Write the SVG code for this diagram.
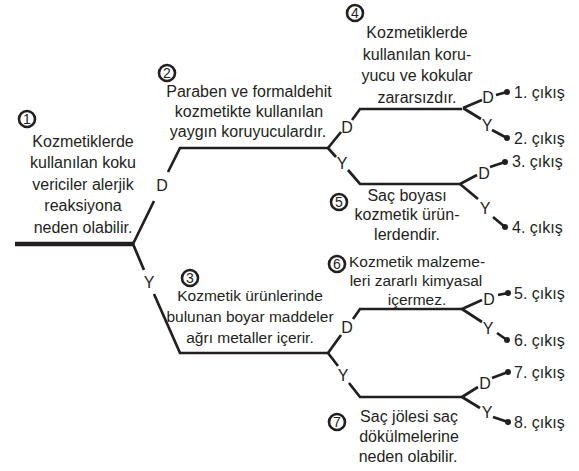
<svg xmlns="http://www.w3.org/2000/svg" width="579" height="471" viewBox="0 0 579 471">
<style>
text{font-family:"Liberation Sans",Arial,Helvetica,sans-serif;fill:#231f20}
.t{font-size:16px;text-anchor:middle}
.t3{font-size:15.5px;text-anchor:middle}
.lbl{font-size:16px;text-anchor:middle}
.ex{font-size:16px}
.num{font-size:14px;text-anchor:middle}
.ln{fill:none;stroke:#231f20;stroke-width:2.7;stroke-linecap:butt;stroke-linejoin:miter}
.stem{fill:none;stroke:#231f20;stroke-width:4.5}
.circ{fill:none;stroke:#231f20;stroke-width:2.6}
.dot{fill:#231f20}
</style>
<rect width="579" height="471" fill="#ffffff"/>
<g id="connectors">
<path class="stem" d="M15,244 H134"/>
<path class="ln" d="M133,244 L154,201 M168,172 L180,148 H328"/>
<path class="ln" d="M133,244 L144,270 M154,294 L180,353 H328"/>
<path class="ln" d="M328,148 L341,132 M352,120 L360,109 H462"/>
<path class="ln" d="M328,148 L336,157 M348,170 L360,184 H460"/>
<path class="ln" d="M328,353 L341,335 M353,319 L360,309 H462"/>
<path class="ln" d="M328,353 L338,366 M349,383 L360,397 H462"/>
<path class="ln" d="M463,108 L482,100 M496,95 L507,92 M463,108 L481,119 M492,130 L507,138"/>
<path class="ln" d="M460,184 L477,175 M490,167 L505,162 M460,184 L478,199 M493,217 L505,227"/>
<path class="ln" d="M462,309 L482,300 M498,295 L508,293 M462,309 L482,322 M497,333 L507,340"/>
<path class="ln" d="M462,397 L478,387 M492,378 L508,372 M462,397 L480,408 M493,417 L508,422"/>
<circle class="dot" cx="507" cy="92" r="3"/>
<circle class="dot" cx="507" cy="138" r="3"/>
<circle class="dot" cx="505" cy="162" r="3"/>
<circle class="dot" cx="505" cy="227" r="3"/>
<circle class="dot" cx="508" cy="293" r="3"/>
<circle class="dot" cx="507" cy="340" r="3"/>
<circle class="dot" cx="508" cy="372" r="3"/>
<circle class="dot" cx="508" cy="422" r="3"/>
<text class="lbl" x="162" y="191">D</text>
<text class="lbl" x="149" y="288">Y</text>
<text class="lbl" x="347" y="133">D</text>
<text class="lbl" x="342" y="169">Y</text>
<text class="lbl" x="347" y="333">D</text>
<text class="lbl" x="343" y="381">Y</text>
<text class="lbl" x="488" y="103">D</text>
<text class="lbl" x="487" y="131">Y</text>
<text class="lbl" x="484" y="179">D</text>
<text class="lbl" x="485" y="214">Y</text>
<text class="lbl" x="489" y="305">D</text>
<text class="lbl" x="488" y="334">Y</text>
<text class="lbl" x="485" y="389">D</text>
<text class="lbl" x="487" y="418">Y</text>
</g>
<g id="node1">
<circle class="circ" cx="27" cy="119" r="8"/>
<text class="num" x="27" y="124">1</text>
<text class="t" x="83" y="147">Kozmetiklerde</text>
<text class="t" x="83" y="168">kullanılan koku</text>
<text class="t" x="83" y="190">vericiler alerjik</text>
<text class="t" x="83" y="211">reaksiyona</text>
<text class="t" x="83" y="233">neden olabilir.</text>
</g>
<g id="node2">
<circle class="circ" cx="167" cy="73" r="8"/>
<text class="num" x="167" y="78">2</text>
<text class="t" x="249" y="97">Paraben ve formaldehit</text>
<text class="t" x="249" y="117">kozmetikte kullanılan</text>
<text class="t" x="248" y="137">yaygın koruyuculardır.</text>
</g>
<g id="node3">
<circle class="circ" cx="190" cy="278" r="8"/>
<text class="num" x="190" y="283">3</text>
<text class="t3" x="250" y="301">Kozmetik ürünlerinde</text>
<text class="t3" x="250" y="322">bulunan boyar maddeler</text>
<text class="t3" x="250" y="343">ağrı metaller içerir.</text>
</g>
<g id="node4">
<circle class="circ" cx="355" cy="13" r="8"/>
<text class="num" x="355" y="18">4</text>
<text class="t" x="417" y="38">Kozmetiklerde</text>
<text class="t" x="417" y="60">kullanılan koru-</text>
<text class="t" x="417" y="81">yucu ve kokular</text>
<text class="t" x="417" y="103">zararsızdır.</text>
</g>
<g id="node5">
<circle class="circ" cx="339" cy="202" r="8"/>
<text class="num" x="339" y="207">5</text>
<text class="t" x="407" y="201">Saç boyası</text>
<text class="t" x="407" y="220">kozmetik ürün-</text>
<text class="t" x="407" y="240">lerdendir.</text>
</g>
<g id="node6">
<circle class="circ" cx="337" cy="264" r="8"/>
<text class="num" x="337" y="269">6</text>
<text class="t3" x="417" y="267">Kozmetik malzeme-</text>
<text class="t3" x="416" y="286">leri zararlı kimyasal</text>
<text class="t3" x="417" y="305">içermez.</text>
</g>
<g id="node7">
<circle class="circ" cx="337" cy="422" r="8"/>
<text class="num" x="337" y="427">7</text>
<text class="t" x="409" y="422">Saç jölesi saç</text>
<text class="t" x="409" y="442">dökülmelerine</text>
<text class="t" x="408" y="462">neden olabilir.</text>
</g>
<g id="exit1"><text class="ex" x="514" y="97.5">1. çıkış</text></g>
<g id="exit2"><text class="ex" x="514" y="143.5">2. çıkış</text></g>
<g id="exit3"><text class="ex" x="512" y="167">3. çıkış</text></g>
<g id="exit4"><text class="ex" x="512" y="233">4. çıkış</text></g>
<g id="exit5"><text class="ex" x="514" y="298.5">5. çıkış</text></g>
<g id="exit6"><text class="ex" x="514" y="345.5">6. çıkış</text></g>
<g id="exit7"><text class="ex" x="514" y="377.5">7. çıkış</text></g>
<g id="exit8"><text class="ex" x="514" y="427.5">8. çıkış</text></g>
</svg>
